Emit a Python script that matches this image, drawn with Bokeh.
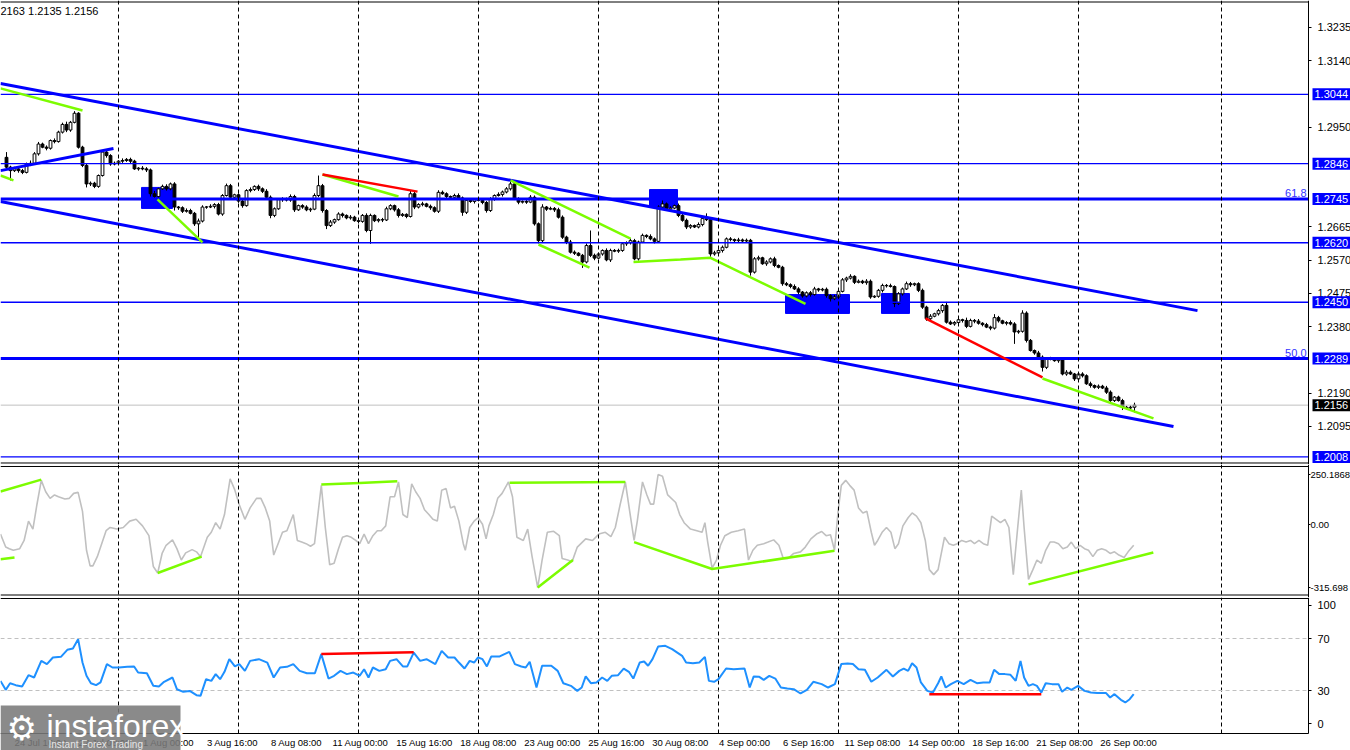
from bokeh.plotting import figure
from bokeh.models import (Range1d, FixedTicker, Span, Label, LinearAxis, BoxAnnotation,
                          CustomJSTickFormatter, PrintfTickFormatter)
from bokeh.layouts import column
from bokeh.embed import file_html
from bokeh.resources import INLINE

# ---------------- data (GBP/USD H4, candle index 0 = 24 Jul 08:00) ----------------
open_first = 1.2864
closes = [
    1.2836, 1.2826, 1.2831, 1.2826, 1.2821, 1.2845, 1.2847, 1.2874, 1.2902, 1.2893, 1.2890, 1.2912, 1.2909, 1.2936, 1.2958, 1.2942, 1.2964, 1.2990, 1.2893, 1.2841,
    1.2788, 1.2790, 1.2781, 1.2812, 1.2879, 1.2869, 1.2845, 1.2847, 1.2853, 1.2855, 1.2858, 1.2853, 1.2831, 1.2833, 1.2831, 1.2828, 1.2760, 1.2752, 1.2774, 1.2781,
    1.2774, 1.2788, 1.2722, 1.2720, 1.2710, 1.2712, 1.2704, 1.2674, 1.2682, 1.2722, 1.2722, 1.2724, 1.2729, 1.2702, 1.2755, 1.2783, 1.2750, 1.2757, 1.2739, 1.2726,
    1.2769, 1.2772, 1.2781, 1.2774, 1.2767, 1.2750, 1.2698, 1.2717, 1.2743, 1.2745, 1.2742, 1.2752, 1.2714, 1.2726, 1.2722, 1.2714, 1.2716, 1.2755, 1.2783, 1.2712,
    1.2669, 1.2679, 1.2686, 1.2702, 1.2698, 1.2691, 1.2693, 1.2683, 1.2681, 1.2698, 1.2655, 1.2698, 1.2683, 1.2686, 1.2685, 1.2717, 1.2726, 1.2714, 1.2698, 1.2701,
    1.2695, 1.2760, 1.2722, 1.2729, 1.2731, 1.2724, 1.2720, 1.2710, 1.2764, 1.2760, 1.2752, 1.2750, 1.2755, 1.2748, 1.2707, 1.2741, 1.2738, 1.2743, 1.2741, 1.2735,
    1.2712, 1.2745, 1.2755, 1.2758, 1.2765, 1.2774, 1.2788, 1.2745, 1.2736, 1.2738, 1.2736, 1.2750, 1.2674, 1.2626, 1.2722, 1.2716, 1.2718, 1.2714, 1.2693, 1.2636,
    1.2622, 1.2593, 1.2590, 1.2584, 1.2565, 1.2612, 1.2584, 1.2576, 1.2588, 1.2598, 1.2571, 1.2598, 1.2596, 1.2598, 1.2617, 1.2620, 1.2626, 1.2574, 1.2622, 1.2641,
    1.2638, 1.2631, 1.2624, 1.2722, 1.2731, 1.2716, 1.2719, 1.2726, 1.2698, 1.2684, 1.2665, 1.2669, 1.2665, 1.2672, 1.2689, 1.2686, 1.2588, 1.2591, 1.2598, 1.2607,
    1.2631, 1.2629, 1.2626, 1.2628, 1.2625, 1.2627, 1.2536, 1.2574, 1.2577, 1.2560, 1.2565, 1.2574, 1.2555, 1.2550, 1.2503, 1.2500, 1.2495, 1.2488, 1.2479, 1.2468,
    1.2477, 1.2472, 1.2488, 1.2485, 1.2487, 1.2469, 1.2460, 1.2465, 1.2481, 1.2514, 1.2519, 1.2524, 1.2507, 1.2510, 1.2506, 1.2510, 1.2465, 1.2467, 1.2484, 1.2498,
    1.2497, 1.2495, 1.2446, 1.2474, 1.2488, 1.2503, 1.2500, 1.2503, 1.2484, 1.2436, 1.2403, 1.2410, 1.2417, 1.2426, 1.2441, 1.2393, 1.2388, 1.2392, 1.2400, 1.2398,
    1.2381, 1.2398, 1.2396, 1.2390, 1.2386, 1.2379, 1.2376, 1.2406, 1.2397, 1.2390, 1.2392, 1.2388, 1.2365, 1.2367, 1.2419, 1.2341, 1.2312, 1.2305, 1.2293, 1.2264,
    1.2288, 1.2288, 1.2283, 1.2286, 1.2245, 1.2250, 1.2245, 1.2231, 1.2245, 1.2240, 1.2217, 1.2212, 1.2207, 1.2210, 1.2205, 1.2193, 1.2169, 1.2179, 1.2169, 1.2150,
    1.2148, 1.2150, 1.2156,
]
wick_up_pips = [
    15, 4, 6, 3, 5, 4, 8, 5, 6, 4, 5, 3, 6, 4, 5, 8, 4, 6, 3, 4,
    6, 5, 4, 3, 5, 7, 4, 5, 3, 6, 4, 5, 4, 3, 6, 5, 4, 8, 3, 5,
    6, 4, 5, 3, 4, 6, 5, 4, 7, 5, 3, 6, 4, 5, 4, 6, 5, 3, 4, 5,
    4, 6, 3, 5, 4, 6, 5, 4, 3, 5, 4, 6, 5, 3, 4, 5, 4, 6, 29, 5,
    4, 6, 3, 5, 4, 3, 6, 4, 5, 4, 6, 5, 3, 4, 5, 6, 4, 3, 5, 4,
    3, 10, 5, 4, 6, 3, 5, 4, 6, 5, 4, 3, 5, 6, 4, 5, 3, 4, 6, 5,
    4, 5, 3, 6, 4, 5, 12, 4, 5, 3, 4, 6, 5, 4, 8, 3, 5, 4, 6, 5,
    4, 6, 5, 3, 4, 6, 43, 5, 4, 3, 6, 5, 4, 5, 3, 4, 6, 5, 4, 5,
    3, 6, 4, 5, 15, 4, 5, 3, 6, 4, 5, 4, 3, 6, 5, 15, 4, 6, 3, 5,
    4, 5, 3, 6, 4, 5, 4, 5, 6, 3, 5, 4, 6, 3, 4, 5, 4, 6, 5, 3,
    4, 5, 6, 3, 4, 5, 4, 6, 3, 5, 4, 6, 3, 5, 4, 6, 5, 3, 4, 5,
    4, 6, 3, 5, 4, 6, 5, 3, 4, 5, 4, 6, 3, 5, 4, 10, 5, 4, 6, 3,
    8, 5, 4, 6, 3, 5, 4, 10, 5, 3, 4, 6, 5, 4, 8, 5, 4, 3, 6, 5,
    4, 6, 3, 5, 4, 6, 5, 3, 4, 5, 4, 6, 3, 5, 4, 6, 5, 3, 4, 5,
    4, 5, 7,
]
wick_dn_pips = [
    5, 28, 4, 6, 5, 3, 6, 4, 5, 3, 6, 4, 5, 3, 4, 6, 5, 3, 4, 5,
    10, 6, 5, 4, 3, 6, 5, 4, 3, 5, 4, 6, 3, 5, 4, 6, 8, 5, 4, 3,
    5, 4, 10, 6, 5, 4, 3, 6, 48, 4, 5, 3, 6, 4, 5, 3, 6, 4, 5, 6,
    3, 5, 4, 6, 5, 4, 8, 5, 3, 6, 4, 5, 6, 3, 5, 4, 6, 3, 5, 6,
    10, 4, 5, 3, 6, 4, 5, 3, 6, 4, 5, 38, 4, 5, 6, 3, 4, 5, 6, 4,
    5, 3, 6, 4, 5, 3, 6, 4, 5, 3, 6, 4, 5, 4, 10, 5, 4, 6, 3, 5,
    6, 4, 5, 3, 6, 4, 5, 3, 6, 4, 5, 3, 5, 8, 4, 5, 3, 6, 4, 5,
    6, 4, 5, 3, 17, 4, 5, 6, 3, 5, 4, 6, 3, 5, 4, 6, 5, 4, 5, 3,
    5, 4, 6, 3, 5, 4, 6, 3, 5, 4, 6, 5, 3, 4, 5, 4, 8, 5, 4, 6,
    3, 5, 4, 6, 5, 3, 10, 4, 5, 3, 6, 4, 5, 3, 6, 4, 5, 3, 6, 5,
    4, 6, 3, 5, 4, 6, 10, 4, 5, 3, 6, 4, 5, 3, 4, 6, 5, 3, 4, 6,
    5, 3, 10, 4, 5, 3, 6, 4, 5, 5, 6, 4, 3, 5, 6, 4, 3, 5, 4, 6,
    5, 3, 6, 4, 5, 3, 6, 4, 5, 3, 6, 4, 34, 5, 4, 6, 3, 5, 4, 12,
    5, 4, 3, 6, 4, 5, 3, 6, 4, 5, 3, 6, 4, 5, 3, 5, 5, 4, 3, 8,
    4, 5, 15,
]

price_ticks = [1.2095, 1.2190, 1.2380, 1.2475, 1.2570, 1.2665, 1.2950, 1.3140, 1.3235]
levels_thin = [1.3044, 1.2846, 1.2620, 1.2450, 1.2008]
levels_fibo = [1.2745, 1.2289]
fibo_text = ["61.8", "50.0"]
current_price = 1.2156
ohlc_text = "2163 1.2135 1.2156"

box_left = [33.75, 160.75, 194.75, 218.75]
box_right = [41.5, 167.75, 210.75, 225.75]
box_top = [1.2778, 1.2772, 1.2472, 1.2475]
box_bottom = [1.2718, 1.2721, 1.2418, 1.2418]

channel_x = [[-1.5, 297.75], [-1.5, 291.75], [-1.5, 26.75]]
channel_y = [[1.3075, 1.2426], [1.2738, 1.2095], [1.2826, 1.2889]]

green_main_x = [[-1.5, 19], [-1.5, 1.75], [37.75, 49], [79, 98], [126, 156],
                [133, 145.75], [156.75, 168.5, 176, 199.75], [259, 286.75]]
green_main_y = [[1.3061, 1.2998], [1.2812, 1.2798], [1.2744, 1.2621], [1.2815, 1.2752],
                [1.2798, 1.2632], [1.2615, 1.2549], [1.2565, 1.2572, 1.2577, 1.2445],
                [1.2232, 1.2118]]
red_main_x = [[79, 102.75], [229.75, 259]]
red_main_y = [[1.2815, 1.2766], [1.2404, 1.2235]]

week_lines = [28, 58, 88, 118, 148, 178, 208, 238, 268, 303.75]
time_idx = [2, 18, 34, 50, 66, 82, 98, 114, 130, 146, 162, 178, 194, 210, 226, 242, 258, 274]
time_text = ["24 Jul 16:00", "27 Jul 08:00", "1 Aug 00:00", "3 Aug 16:00", "8 Aug 08:00",
             "11 Aug 00:00", "15 Aug 16:00", "18 Aug 08:00", "23 Aug 00:00", "25 Aug 16:00",
             "30 Aug 08:00", "4 Sep 00:00", "6 Sep 16:00", "11 Sep 08:00", "14 Sep 00:00",
             "18 Sep 16:00", "21 Sep 08:00", "26 Sep 00:00"]

cci_pts = [
    (-1.5, -48), (-0.2, -113), (0.7, -121), (1.7, -129), (3.3, -121), (4.4, -80), (5.5, 17), (6.6, -23),
    (7.6, 99), (8.7, 221), (9.8, 164), (10.9, 131), (12, 148), (13, 139), (14.6, 128), (15.7, 131),
    (16.8, 156), (17.9, 161), (19, 66), (20, -129), (20.9, -207), (21.6, -207), (22.7, -161), (23.8, -96),
    (24.9, -31), (25.9, -15), (27.6, -23), (29.2, -15), (30.8, 17), (32.4, 26), (34, -7), (35.6, -56),
    (36.7, -210), (37.8, -243), (38.9, -145), (39.9, -104), (41.5, -77), (42.6, -121), (43.7, -178),
    (44.8, -142), (46.4, -126), (47.5, -137), (48.5, -161), (50.2, -64), (51.2, -39), (52.3, 9),
    (53.4, -23), (54.5, 50), (55.9, 229), (57.1, 172), (58.2, 99), (59.6, 26), (60.9, 83), (62.5, 131),
    (63.6, 131), (64.7, 83), (65.8, 17), (66.8, -153), (67.9, -96), (69, -39), (70.1, -31), (71.7, 50),
    (72.7, -80), (73.8, -88), (74.9, -96), (76, -109), (77, -96), (78.7, 196), (79.7, -15), (80.8, -202),
    (81.9, -194), (83, -121), (84, -64), (85.1, -56), (86.2, -64), (87.3, -80), (88.3, -96), (89.4, -48),
    (90.5, -96), (91.6, -56), (92.7, -31), (93.7, -31), (94.8, -7), (95.9, 139), (97, 139), (98, 213),
    (99.1, 50), (100.2, 34), (101.3, 204), (102.3, 164), (103.4, 131), (104.5, 74), (105.6, 50),
    (106.6, 26), (107.7, 17), (108.8, 172), (109.9, 180), (111, 83), (112, 91), (113.1, 17), (114.2, -96),
    (114.7, -129), (115.8, -15), (116.9, 17), (117.9, 34), (119, 1), (119.9, -72), (120.6, -7),
    (121.7, 50), (122.8, 131), (123.9, 156), (125.5, 213), (126.5, 139), (127.6, -64), (129.2, -80),
    (130.3, -23), (131.4, -161), (132.8, -316), (133.9, -178), (135.2, -39), (136.8, -34), (138.2, -56),
    (138.9, -170), (140.3, -178), (141.4, -186), (142.7, -113), (144.8, -72), (146.5, -80), (148.1, -48),
    (149.7, -39), (151.1, -61), (152.2, -15), (153.4, 99), (154.7, 213), (155.8, 66), (156.9, -80),
    (157.7, 17), (159, 213), (160.1, 148), (161, 102), (161.8, 102), (162.9, 250), (164, 242),
    (165.3, 148), (167.3, 110), (168.3, 50), (169.4, 9), (171, -23), (172.6, -31), (173.9, -39),
    (174.6, 9), (175.3, -88), (176.4, -218), (177.5, -178), (178.5, -104), (179.6, -56), (181.2, -39),
    (182.9, -31), (184.5, -23), (185.5, -178), (186.6, -129), (187.7, -104), (189.3, -96), (190.4, -88),
    (191.8, -77), (193.1, -104), (194.2, -170), (195.4, -170), (196.8, -145), (198.5, -137),
    (199.7, -113), (201.1, -72), (202.5, -48), (203.8, -35), (204.9, -56), (206, -51), (207, -129),
    (207.9, 66), (208.7, 196), (209.8, 221), (210.8, 196), (211.9, 172), (213, 83), (214.1, 58),
    (215.1, 66), (216.2, -39), (217, -104), (217.8, -80), (218.9, -39), (220, -15), (221.1, -39),
    (222.1, -121), (223, -96), (224.1, -7), (225.4, 34), (226.4, 58), (227.5, 42), (228.6, 9),
    (229.7, -80), (230.7, -226), (231.8, -251), (232.9, -226), (233.7, -145), (234.5, -64), (235.6, -96),
    (236.7, -104), (237.7, -96), (238.8, -80), (239.9, -88), (241, -80), (242, -96), (243.1, -80),
    (244.2, -96), (245.3, -104), (246.3, 42), (247.4, 26), (248.5, 9), (249.6, 26), (250.6, -15),
    (251.7, -251), (252.8, -15), (253.7, 172), (254.4, -15), (255.5, -275), (256.6, -226), (257.6, -178),
    (258.7, -194), (259.8, -129), (260.9, -88), (261.9, -88), (263, -96), (264.1, -121), (265.2, -113),
    (266.2, -88), (267.3, -121), (268.4, -104), (269.5, -121), (270.5, -129), (271.6, -161),
    (272.7, -129), (273.8, -121), (274.9, -129), (275.9, -145), (277, -137), (278.1, -153), (279.4, -165),
    (280.4, -137), (281.8, -104),
]
cci_ticks = [-315.698, 0.0, 250.1868]
cci_tick_text = ["-315.698", "0.00", "250.1868"]
green_cci_x = [[-1.5, 8.7], [-1.5, 2], [37.8, 48.8], [78.7, 88.3, 97.7], [125.8, 154.7],
               [132.8, 141.6], [156.9, 176.4, 207], [255.5, 286.7]]
green_cci_y = [[165, 225], [-174, -165], [-243, -161], [200, 208, 216], [209, 213],
               [-316, -178], [-88, -223, -132], [-300, -140]]

rsi_pts = [
    (-1.5, 37.4), (-0.2, 30.5), (0.9, 35.6), (2.3, 34.1), (3.9, 33.1), (5.5, 41.8), (6.9, 40), (8.7, 52.8),
    (10.1, 50.3), (11.6, 55.4), (13.6, 55.9), (15.2, 61.3), (16.6, 62.3), (17.9, 69.5), (19, 51.5),
    (20, 41.3), (21.1, 35.6), (22.4, 34.1), (23.5, 36.2), (25.1, 50.3), (26.5, 47.7), (28.1, 47.7),
    (30.2, 48.2), (31.9, 48.5), (32.9, 43.8), (35.1, 43.3), (36.7, 33.6), (38.1, 33.1), (39.4, 36.7),
    (41.5, 40), (42.6, 31), (44.2, 29), (45.8, 29.7), (47.5, 26.4), (48.5, 25.9), (49.9, 38.7),
    (51.2, 37.4), (52.3, 42.6), (53.4, 38.7), (54.5, 44.4), (55.7, 54.1), (57.1, 48.5), (58.2, 50.3),
    (59.6, 45.1), (60.9, 52.8), (63.1, 54.1), (65.2, 51.5), (66.8, 40), (68.4, 47.7), (70.1, 48.2),
    (71.7, 50.3), (73.3, 45.1), (75.1, 43.3), (77.1, 43.3), (78.7, 58), (80.5, 39.2), (81.9, 41.3),
    (83.5, 45.1), (85.1, 42.6), (86.7, 43.8), (88.3, 41.3), (89.4, 46.4), (90.5, 40), (91.6, 47.7),
    (93.2, 45.1), (94.8, 46.4), (95.9, 52.8), (97.5, 54.1), (99.1, 48.5), (100.2, 48.5), (101.8, 59.2),
    (103.4, 52.8), (105, 54.1), (107.2, 50.3), (108.8, 60.5), (110.4, 55.4), (112, 55.4), (113.1, 51.5),
    (114.5, 46.9), (115.8, 52.8), (116.9, 51.5), (117.9, 55.4), (119, 54.1), (120.1, 48.5), (121.2, 56.2),
    (123.3, 56.2), (125.7, 59.7), (127.1, 50.3), (128.7, 48.5), (129.8, 47.7), (130.8, 52.1),
    (132.5, 32.3), (133.9, 49), (136.2, 49), (137.8, 45.1), (139.2, 35.6), (141.1, 33.6), (142.7, 29.7),
    (143.8, 32.3), (144.8, 40.8), (146.1, 35.6), (147.5, 36.2), (148.9, 40), (150.2, 37.4), (151.3, 41.3),
    (152.9, 41.8), (154.3, 46.9), (155.6, 44.4), (156.7, 39.2), (158.3, 51.5), (159.4, 52.3), (160.4, 49),
    (161.5, 54.1), (162.9, 63.8), (164.7, 64.4), (166.4, 61.8), (168.9, 56.7), (169.9, 51.5),
    (171.6, 51), (173.2, 51.5), (174.6, 55.9), (175.6, 37.4), (176.9, 36.7), (178, 38.7), (179.9, 46.9),
    (181.8, 46.4), (184.5, 46.9), (185.8, 32.3), (186.8, 40.8), (188.2, 40.5), (189.3, 38.2),
    (190.7, 41.3), (192.2, 39.2), (193.6, 32.3), (195.2, 31.5), (196.8, 31), (198.5, 27.7), (200.1, 30.5),
    (201.7, 36.7), (203.8, 34.9), (205.4, 32.3), (207.1, 34.9), (208.7, 50.3), (210.3, 50.8),
    (211.6, 50.3), (213, 46.4), (214.6, 45.9), (216.2, 36.7), (217.8, 40), (220, 45.9), (221.6, 40.8),
    (223.2, 45.1), (224.3, 46.9), (225.4, 45.1), (226.4, 51), (227.5, 47.7), (228.6, 36.2), (230.2, 29.7),
    (231.6, 28.5), (232.9, 35.6), (233.7, 40.8), (234.8, 32.3), (236.1, 34.9), (237.7, 37.4),
    (239.3, 34.9), (241, 38.2), (242.6, 35.6), (244.2, 36.2), (245.8, 36.2), (246.9, 45.9), (248.2, 42.6),
    (249.6, 42.6), (251, 42.1), (252.3, 37.4), (253.5, 52.8), (254.4, 40), (255.5, 33.6), (256.6, 34.9),
    (257.6, 33.6), (258.7, 28.5), (259.8, 35.6), (261.4, 34.9), (263, 34.9), (263.9, 29), (265.2, 32.3),
    (266.2, 30.5), (267.9, 33.6), (269.5, 29.7), (271.1, 28.5), (272.7, 28), (274.9, 28), (275.9, 24.6),
    (277, 27.2), (278.6, 22.8), (279.7, 20.8), (280.8, 23.3), (281.8, 27.2),
]
rsi_levels = [70, 30]
rsi_label_pos = [4.5, 30, 70, 95.5]
rsi_label_text = ["0", "30", "70", "100"]
red_rsi_x = [[78.7, 101.8], [230.7, 258.7]]
red_rsi_y = [[58.0, 59.5], [27.2, 27.2]]

# ---------------- geometry / styling ----------------
BLUE = "#0000FF"
GREEN = "#7CFC00"
RED = "#FF0000"
SILVER = "#C0C0C0"
RSI_BLUE = "#1E90FF"
FONT = "Liberation Sans"
WIDTH = 1350
PX_PER_BAR = 4
X0 = -1.5
X1 = X0 + WIDTH / PX_PER_BAR
X_AX = X0 + 1308 / PX_PER_BAR          # price-scale line position
LABEL_SHIFT = 6.5
LOOKUP_JS = "const k = tvals.indexOf(tick); return k >= 0 ? tlabels[k] : '';"

MAIN_Y = (1.19864, 1.33121)            # 464 px tall
MAIN_BORDERS = [1.33078, 1.19907]
CCI_Y = (-365.6, 300.5)                # 133 px tall
CCI_BORDERS = [290.5, -353.1]
RSI_Y = (-16.15, 101.54)               # 153 px tall
RSI_TOP = 100.77
RSI_AXIS = -3.08

x_range = Range1d(X0, X1)


def make_fig(height, yr, borders):
    f = figure(width=WIDTH, height=height, x_range=x_range, y_range=Range1d(*yr),
               output_backend="svg", toolbar_location=None,
               x_axis_location=None, y_axis_location=None,
               min_border=0, min_border_left=0, min_border_right=0,
               min_border_top=0, min_border_bottom=0)
    f.xgrid.visible = False
    f.ygrid.visible = False
    f.outline_line_color = None
    f.background_fill_color = "white"
    f.border_fill_color = "white"
    f.segment(x0=[X0] * len(borders), x1=[X_AX] * len(borders), y0=borders, y1=borders,
              line_color="black", line_width=1)
    return f


def price_axis(f, ticker, formatter, size, standoff, tick_out=3, bounds="auto"):
    ax = LinearAxis(fixed_location=X_AX, ticker=ticker, formatter=formatter, bounds=bounds)
    ax.major_tick_in = 0
    ax.major_tick_out = tick_out
    ax.minor_tick_line_color = None
    ax.axis_line_color = "black"
    ax.major_label_standoff = standoff
    ax.major_label_text_font = FONT
    ax.major_label_text_font_size = size
    ax.major_label_text_color = "black"
    f.add_layout(ax, "right")
    return ax


# ---------------- main price panel ----------------
p = make_fig(464, MAIN_Y, MAIN_BORDERS)
for g in week_lines:
    p.add_layout(Span(location=g, dimension="height", line_color="black", line_dash="4 3", line_width=1))

p.quad(left=box_left, right=box_right, top=box_top, bottom=box_bottom, fill_color=BLUE, line_color=BLUE)

opens = [open_first] + closes[:-1]
idx = list(range(len(closes)))
highs = [max(o, c) + u * 0.0001 for o, c, u in zip(opens, closes, wick_up_pips)]
lows = [min(o, c) - d * 0.0001 for o, c, d in zip(opens, closes, wick_dn_pips)]
p.segment(x0=idx, y0=lows, x1=idx, y1=highs, line_color="black", line_width=1)
bull = [i for i in idx if closes[i] >= opens[i]]
bear = [i for i in idx if closes[i] < opens[i]]
p.vbar(x=bull, width=0.7, top=[closes[i] for i in bull], bottom=[opens[i] for i in bull],
       fill_color="white", line_color="black", line_width=1)
p.vbar(x=bear, width=0.7, top=[opens[i] for i in bear], bottom=[closes[i] for i in bear],
       fill_color="black", line_color="black", line_width=1)

p.segment(x0=[X0], x1=[X_AX], y0=[current_price], y1=[current_price], line_color=SILVER, line_width=1)
p.segment(x0=[X0] * len(levels_thin), x1=[X_AX] * len(levels_thin), y0=levels_thin, y1=levels_thin,
          line_color=BLUE, line_width=1.3)
p.segment(x0=[X0] * len(levels_fibo), x1=[X_AX] * len(levels_fibo), y0=levels_fibo, y1=levels_fibo,
          line_color=BLUE, line_width=3)

p.multi_line(xs=channel_x, ys=channel_y, line_color=BLUE, line_width=3)
p.multi_line(xs=green_main_x, ys=green_main_y, line_color=GREEN, line_width=2.5)
p.multi_line(xs=red_main_x, ys=red_main_y, line_color=RED, line_width=2.5)

price_axis(p, FixedTicker(ticks=price_ticks), PrintfTickFormatter(format="%.4f"), "11px", 6)

for lv, t in zip(levels_fibo, fibo_text):
    p.add_layout(Label(x=X_AX, y=lv, text=t, text_align="right", text_baseline="bottom",
                       x_offset=-2, y_offset=2, text_color="#3333FF",
                       text_font=FONT, text_font_size="11px"))
for lv in levels_thin + levels_fibo:
    p.add_layout(Label(x=X_AX, y=lv, text=f"{lv:.4f}", text_align="left", text_baseline="middle",
                       x_offset=4, text_color="white", background_fill_color=BLUE,
                       text_font=FONT, text_font_size="11px", padding=2))
p.add_layout(Label(x=X_AX, y=current_price, text=f"{current_price:.4f}", text_align="left",
                   text_baseline="middle", x_offset=4, text_color="white",
                   background_fill_color="black", text_font=FONT, text_font_size="11px", padding=2))
p.add_layout(Label(x=X0, y=MAIN_Y[1], text=ohlc_text, text_baseline="top", y_offset=-4,
                   text_color="black", text_font=FONT, text_font_size="11px"))

# ---------------- CCI panel ----------------
pc = make_fig(133, CCI_Y, CCI_BORDERS)
for g in week_lines:
    pc.add_layout(Span(location=g, dimension="height", line_color="black", line_dash="4 3", line_width=1))
pc.line([q[0] for q in cci_pts], [q[1] for q in cci_pts], line_color=SILVER, line_width=1.6)
pc.multi_line(xs=green_cci_x, ys=green_cci_y, line_color=GREEN, line_width=2.5)
price_axis(pc, FixedTicker(ticks=cci_ticks),
           CustomJSTickFormatter(args=dict(tvals=cci_ticks, tlabels=cci_tick_text), code=LOOKUP_JS),
           "9.5px", 0, tick_out=2)

# ---------------- RSI panel ----------------
pr = make_fig(153, RSI_Y, [RSI_TOP])
pr.segment(x0=week_lines, x1=week_lines, y0=[RSI_AXIS] * len(week_lines), y1=[RSI_Y[1]] * len(week_lines),
           line_color="black", line_dash="4 3", line_width=1)
pr.segment(x0=[X0] * len(rsi_levels), x1=[X_AX] * len(rsi_levels), y0=rsi_levels, y1=rsi_levels,
           line_color=SILVER, line_dash="4 3", line_width=1)
pr.line([q[0] for q in rsi_pts], [q[1] for q in rsi_pts], line_color=RSI_BLUE, line_width=2)
pr.multi_line(xs=red_rsi_x, ys=red_rsi_y, line_color=RED, line_width=2.5)
price_axis(pr, FixedTicker(ticks=rsi_label_pos),
           CustomJSTickFormatter(args=dict(tvals=rsi_label_pos, tlabels=rsi_label_text), code=LOOKUP_JS),
           "11px", 6, bounds=(RSI_AXIS, RSI_Y[1]))

tick_pos = [i + LABEL_SHIFT for i in time_idx]
xax = LinearAxis(fixed_location=RSI_AXIS, ticker=FixedTicker(ticks=tick_pos),
                 formatter=CustomJSTickFormatter(args=dict(tvals=tick_pos, tlabels=time_text), code=LOOKUP_JS),
                 bounds=(X0, X_AX))
xax.major_tick_line_color = None
xax.minor_tick_line_color = None
xax.major_tick_in = 0
xax.major_tick_out = 1
xax.major_label_standoff = 2
xax.major_label_text_font = FONT
xax.major_label_text_font_size = "9.5px"
xax.major_label_text_color = "black"
xax.axis_line_color = "black"
pr.add_layout(xax, "below")

# logo: semi-transparent grey plate drawn above the time axis, white lettering on top
pr.add_layout(BoxAnnotation(left=X0, right=X0 + 180 / PX_PER_BAR, top=18.4, bottom=RSI_Y[0],
                            fill_color="#7A7A7A", fill_alpha=0.88, line_color=None))
pr.add_layout(Label(x=X0, y=16.2, x_offset=46, text="instaforex", text_baseline="top",
                    text_color="white", text_font=FONT, text_font_size="32px"))
pr.add_layout(Label(x=X0, y=16.9, x_offset=6, text="\u2699", text_baseline="top",
                    text_color="white", text_font="DejaVu Sans", text_font_size="34px"))
pr.add_layout(Label(x=X0, y=-7.3, x_offset=48, text="Instant Forex Trading", text_baseline="top",
                    text_color="#E6E6E6", text_font=FONT, text_font_size="10px"))

layout = column(p, pc, pr)
open("out.html", "w").write(file_html(layout, INLINE))
